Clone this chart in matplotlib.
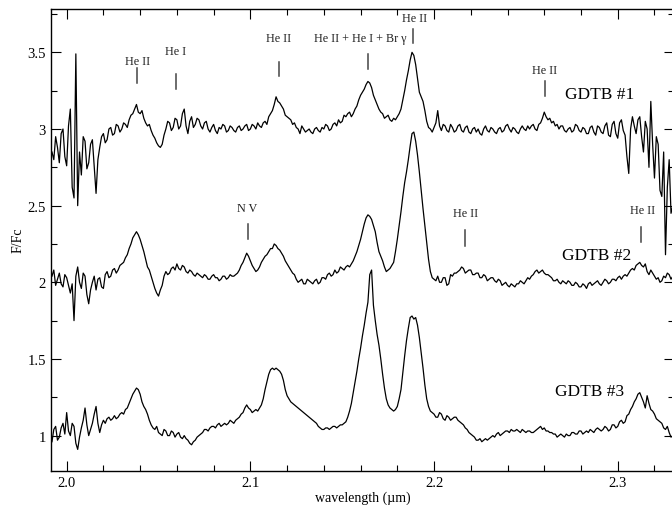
import matplotlib
matplotlib.use('Agg')
import matplotlib.pyplot as plt
import numpy as np
from matplotlib.ticker import MultipleLocator, FixedLocator

plt.rcParams['font.family'] = ['Liberation Serif', 'DejaVu Serif']

# wavelength grid (micron), 0.001 steps from 1.992 to 2.330
wl = np.round(np.arange(1.992, 2.3305, 0.001), 3)

# GDTB #1 (top spectrum), one row per 0.02 micron
gdtb1 = [
    2.85, 2.80, 2.95, 2.88, 2.78, 2.97, 3.00, 2.82, 2.76, 3.02, 3.13, 2.62, 2.55, 3.49, 2.50, 2.85, 2.70, 2.95, 2.92, 2.74,
    2.78, 2.90, 2.93, 2.76, 2.58, 2.80, 2.88, 2.95, 2.97, 2.91, 2.93, 3.00, 3.01, 2.96, 2.97, 3.03, 3.02, 2.98, 3.00, 3.04,
    3.03, 3.01, 3.06, 3.09, 3.10, 3.13, 3.16, 3.11, 3.10, 3.12, 3.07, 3.04, 3.02, 3.03, 2.99, 2.96, 2.94, 2.91, 2.89, 2.88,
    2.90, 2.96, 3.00, 3.05, 3.04, 2.99, 3.01, 3.07, 3.06, 3.00, 3.02, 3.10, 3.13, 3.02, 2.97, 3.05, 3.08, 3.01, 3.03, 3.07,
    3.06, 3.02, 3.00, 3.04, 3.05, 3.00, 2.98, 3.01, 3.03, 2.99, 2.97, 3.01, 3.00, 3.03, 3.02, 2.98, 2.99, 3.02, 3.01, 2.99,
    2.98, 3.01, 3.02, 2.99, 3.00, 3.02, 3.03, 2.99, 3.00, 3.03, 3.02, 3.00, 3.04, 3.02, 3.01, 3.04, 3.05, 3.03, 3.08, 3.10,
    3.12, 3.16, 3.21, 3.18, 3.17, 3.15, 3.13, 3.09, 3.08, 3.07, 3.06, 3.03, 3.04, 3.01, 3.00, 2.97, 3.02, 3.00, 2.98, 2.99,
    3.00, 2.98, 2.97, 3.00, 3.01, 2.99, 2.98, 3.01, 3.00, 3.03, 3.02, 2.99, 3.00, 3.03, 3.04, 3.02, 3.06, 3.04, 3.05, 3.09,
    3.08, 3.10, 3.11, 3.08, 3.10, 3.13, 3.15, 3.19, 3.22, 3.24, 3.26, 3.29, 3.31, 3.30, 3.27, 3.22, 3.19, 3.16, 3.13, 3.11,
    3.10, 3.07, 3.08, 3.09, 3.06, 3.05, 3.07, 3.06, 3.08, 3.10, 3.13, 3.19, 3.25, 3.32, 3.38, 3.45, 3.50, 3.48, 3.42, 3.33,
    3.24, 3.21, 3.18, 3.12, 3.05, 3.01, 3.00, 2.98, 3.01, 3.04, 3.12, 3.02, 2.99, 3.03, 3.02, 2.99, 2.98, 3.03, 3.01, 2.98,
    2.99, 3.02, 3.03, 2.99, 2.98, 3.01, 3.02, 2.98, 2.97, 3.00, 3.01, 2.98, 3.00, 2.97, 2.96, 3.00, 3.02, 2.99, 2.98, 3.01,
    3.00, 2.98, 2.97, 3.00, 3.01, 2.98, 2.99, 3.02, 3.03, 3.00, 2.98, 3.01, 3.00, 2.98, 2.97, 3.00, 3.02, 3.00, 2.99, 3.02,
    3.00, 3.02, 3.03, 3.00, 2.99, 3.03, 3.04, 3.07, 3.11, 3.08, 3.06, 3.07, 3.04, 3.05, 3.02, 3.03, 3.00, 3.02, 3.02, 2.99,
    2.98, 3.00, 3.01, 2.98, 2.99, 3.03, 3.02, 2.99, 2.98, 3.01, 3.00, 2.97, 2.97, 3.01, 3.02, 2.98, 2.96, 3.02, 3.01, 2.98,
    2.97, 3.02, 3.04, 2.96, 2.95, 3.03, 3.05, 2.97, 2.94, 3.04, 3.06, 2.99, 2.96, 2.82, 2.71, 3.00, 3.08, 3.02, 2.97, 3.06,
    3.08, 2.95, 2.85, 3.05, 3.00, 2.75, 3.18, 2.90, 2.68, 2.95, 2.90, 2.60, 2.56, 2.85, 2.18, 2.62, 2.80, 2.45, 2.50,
]

# GDTB #2 (middle spectrum)
gdtb2 = [
    2.04, 2.08, 1.98, 2.02, 2.06, 1.99, 1.97, 2.05, 2.03, 1.98, 1.93, 1.99, 1.75, 2.04, 2.10, 2.00, 1.96, 2.06, 2.04, 1.92,
    1.86, 1.95, 2.00, 2.04, 1.95, 2.02, 2.03, 1.97, 1.96, 2.05, 2.07, 2.03, 2.04, 2.08, 2.09, 2.06, 2.08, 2.11, 2.12, 2.13,
    2.16, 2.18, 2.22, 2.25, 2.29, 2.31, 2.33, 2.31, 2.28, 2.24, 2.20, 2.15, 2.10, 2.08, 2.04, 2.00, 1.96, 1.93, 1.91, 1.95,
    1.98, 2.04, 2.07, 2.05, 2.06, 2.09, 2.10, 2.08, 2.12, 2.09, 2.08, 2.11, 2.10, 2.07, 2.06, 2.08, 2.07, 2.05, 2.04, 2.06,
    2.05, 2.04, 2.03, 2.05, 2.04, 2.02, 2.02, 2.04, 2.05, 2.03, 2.03, 2.01, 2.02, 2.04, 2.04, 2.02, 2.03, 2.05, 2.04, 2.04,
    2.05, 2.06, 2.08, 2.11, 2.13, 2.16, 2.19, 2.17, 2.14, 2.11, 2.09, 2.07, 2.08, 2.10, 2.13, 2.15, 2.17, 2.18, 2.20, 2.22,
    2.22, 2.25, 2.24, 2.22, 2.21, 2.19, 2.17, 2.14, 2.12, 2.10, 2.08, 2.06, 2.05, 2.02, 2.00, 2.01, 2.02, 1.99, 1.99, 2.02,
    2.01, 2.00, 1.99, 2.01, 2.02, 1.99, 2.00, 2.03, 2.03, 2.02, 2.05, 2.06, 2.04, 2.05, 2.08, 2.06, 2.07, 2.10, 2.09, 2.08,
    2.10, 2.11, 2.10, 2.12, 2.14, 2.17, 2.20, 2.24, 2.28, 2.33, 2.38, 2.42, 2.44, 2.43, 2.41, 2.37, 2.33, 2.26, 2.20, 2.17,
    2.14, 2.10, 2.07, 2.08, 2.09, 2.11, 2.13, 2.20, 2.28, 2.37, 2.46, 2.56, 2.65, 2.72, 2.80, 2.89, 2.97, 2.98, 2.92, 2.83,
    2.72, 2.60, 2.48, 2.37, 2.26, 2.15, 2.07, 2.03, 2.02, 2.01, 2.04, 2.00, 2.00, 2.03, 2.03, 1.98, 1.99, 2.05, 2.04, 2.06,
    2.06, 2.07, 2.08, 2.10, 2.09, 2.06, 2.07, 2.08, 2.08, 2.05, 2.05, 2.06, 2.06, 2.03, 2.03, 2.05, 2.04, 2.01, 2.02, 2.03,
    2.03, 2.01, 2.00, 2.02, 2.01, 1.98, 1.99, 2.00, 1.98, 1.97, 1.99, 1.98, 1.97, 1.99, 1.99, 2.01, 2.00, 1.99, 2.01, 2.03,
    2.02, 2.04, 2.05, 2.07, 2.08, 2.06, 2.07, 2.08, 2.06, 2.05, 2.05, 2.04, 2.03, 2.01, 2.01, 2.02, 2.00, 1.99, 2.01, 2.00,
    1.99, 2.01, 2.00, 1.98, 1.98, 2.00, 1.99, 1.97, 1.97, 1.99, 1.98, 1.96, 1.99, 2.00, 1.98, 1.99, 2.00, 2.01, 1.99, 1.98,
    2.00, 2.02, 2.01, 1.99, 2.00, 2.02, 2.02, 2.01, 2.03, 2.04, 2.02, 2.04, 2.05, 2.04, 2.06, 2.08, 2.09, 2.08, 2.11, 2.12,
    2.13, 2.11, 2.10, 2.12, 2.07, 2.05, 2.08, 2.06, 2.04, 2.02, 2.03, 2.00, 2.01, 2.04, 2.03, 2.06, 2.05, 2.02, 2.04,
]

# GDTB #3 (bottom spectrum)
gdtb3 = [
    0.96, 1.04, 1.06, 0.97, 0.99, 1.05, 1.08, 1.01, 1.15, 1.03, 1.00, 1.08, 1.06, 0.95, 0.91, 0.99, 1.05, 1.10, 1.18, 1.07,
    1.00, 1.04, 1.08, 1.14, 1.19, 1.08, 1.02, 1.07, 1.10, 1.08, 1.11, 1.12, 1.10, 1.11, 1.13, 1.11, 1.12, 1.14, 1.15, 1.14,
    1.17, 1.18, 1.21, 1.24, 1.27, 1.29, 1.31, 1.30, 1.27, 1.22, 1.19, 1.17, 1.14, 1.10, 1.07, 1.05, 1.04, 1.06, 1.02, 1.01,
    1.00, 1.04, 1.03, 1.00, 1.00, 1.03, 1.02, 0.99, 1.01, 1.02, 0.99, 0.98, 1.00, 0.98, 0.97, 0.95, 0.94, 0.96, 0.97, 0.99,
    1.00, 1.01, 1.02, 1.04, 1.04, 1.03, 1.05, 1.06, 1.06, 1.05, 1.07, 1.08, 1.06, 1.07, 1.08, 1.07, 1.08, 1.10, 1.09, 1.08,
    1.10, 1.11, 1.12, 1.14, 1.15, 1.18, 1.20, 1.18, 1.17, 1.15, 1.16, 1.17, 1.16, 1.18, 1.20, 1.24, 1.30, 1.35, 1.40, 1.43,
    1.44, 1.43, 1.44, 1.43, 1.42, 1.40, 1.36, 1.30, 1.26, 1.24, 1.22, 1.21, 1.20, 1.19, 1.18, 1.17, 1.16, 1.15, 1.14, 1.13,
    1.12, 1.11, 1.10, 1.09, 1.08, 1.06, 1.05, 1.04, 1.04, 1.05, 1.05, 1.04, 1.05, 1.06, 1.06, 1.05, 1.06, 1.07, 1.07, 1.08,
    1.09, 1.12, 1.16, 1.21, 1.28, 1.35, 1.42, 1.50, 1.57, 1.65, 1.72, 1.80, 1.87, 2.05, 2.08, 1.85, 1.75, 1.66, 1.59, 1.50,
    1.40, 1.31, 1.24, 1.20, 1.18, 1.17, 1.16, 1.17, 1.19, 1.24, 1.30, 1.41, 1.52, 1.62, 1.70, 1.77, 1.78, 1.76, 1.77, 1.72,
    1.64, 1.54, 1.44, 1.33, 1.24, 1.19, 1.16, 1.15, 1.14, 1.12, 1.12, 1.15, 1.14, 1.11, 1.10, 1.13, 1.12, 1.10, 1.11, 1.12,
    1.12, 1.10, 1.09, 1.08, 1.07, 1.05, 1.04, 1.02, 1.01, 1.00, 0.99, 0.97, 0.97, 0.98, 0.96, 0.97, 0.98, 0.97, 0.98, 0.99,
    1.00, 0.99, 1.01, 1.02, 1.00, 1.01, 1.02, 1.03, 1.03, 1.02, 1.04, 1.03, 1.03, 1.04, 1.03, 1.02, 1.04, 1.03, 1.02, 1.03,
    1.03, 1.02, 1.02, 1.03, 1.04, 1.05, 1.06, 1.04, 1.05, 1.03, 1.03, 1.02, 1.02, 1.01, 1.01, 0.99, 1.00, 1.01, 1.00, 0.99,
    1.01, 1.00, 1.00, 1.02, 1.02, 1.01, 1.01, 1.03, 1.03, 1.01, 1.02, 1.03, 1.02, 1.04, 1.03, 1.02, 1.04, 1.05, 1.04, 1.03,
    1.04, 1.06, 1.05, 1.03, 1.04, 1.07, 1.07, 1.05, 1.06, 1.09, 1.10, 1.08, 1.09, 1.13, 1.14, 1.17, 1.19, 1.22, 1.24, 1.27,
    1.28, 1.25, 1.22, 1.18, 1.26, 1.21, 1.17, 1.16, 1.14, 1.11, 1.10, 1.09, 1.08, 1.05, 1.04, 1.06, 1.02, 0.99, 1.00,
]

# line identifications: label, line wavelength, text x, text y, mark top, mark bottom
line_labels = ["He II", "He I", "He II", "He II + He I + Br \u03b3", "He II",
               "He II", "N V", "He II", "He II"]
line_wl = [2.0384, 2.0595, 2.1156, 2.1639, 2.1885, 2.2604, 2.0985, 2.2170, 2.3125]
label_x = [2.0384, 2.0595, 2.1156, 2.1600, 2.1896, 2.2604, 2.0985, 2.2170, 2.3137]
label_y = [3.444, 3.509, 3.594, 3.594, 3.724, 3.385, 2.485, 2.452, 2.472]
mark_top = [3.398, 3.359, 3.437, 3.489, 3.652, 3.313, 2.380, 2.341, 2.361]
mark_bot = [3.300, 3.261, 3.346, 3.391, 3.561, 3.215, 2.282, 2.239, 2.263]

spec_names = ["GDTB #1", "GDTB #2", "GDTB #3"]
name_x = [2.2903, 2.2887, 2.2844]
name_y = [3.228, 2.178, 1.291]

fig = plt.figure(figsize=(6.72, 5.06), dpi=100)
ax = fig.add_axes([0.0766, 0.0678, 0.9263, 0.9134])

for s in (gdtb1, gdtb2, gdtb3):
    ax.plot(wl, s, color='black', lw=0.9)

for lab, w, tx, ty, top, bot in zip(line_labels, line_wl, label_x, label_y, mark_top, mark_bot):
    ax.plot([w, w], [bot, top], color='#444444', lw=1.1)
    ax.text(tx, ty, lab, ha='center', va='center', fontsize=8.7, color='#222222')

for name, nx, ny in zip(spec_names, name_x, name_y):
    ax.text(nx, ny, name, ha='center', va='center', fontsize=12.5)

ax.set_xlim(1.99173, 2.3306)
ax.set_ylim(0.771, 3.786)
ax.xaxis.set_major_locator(FixedLocator([2.0, 2.1, 2.2, 2.3]))
ax.xaxis.set_minor_locator(MultipleLocator(0.02))
ax.yaxis.set_minor_locator(MultipleLocator(0.25))
ax.set_xticklabels(["2.0", "2.1", "2.2", "2.3"])
ax.set_yticks([1, 1.5, 2, 2.5, 3, 3.5])
ax.set_yticklabels(["1", "1.5", "2", "2.5", "3", "3.5"])
ax.tick_params(which='both', direction='in', top=True, right=True, width=0.8, labelsize=10.5)
ax.tick_params(which='major', length=7.5, pad=4)
ax.tick_params(which='minor', length=4)
for sp in ax.spines.values():
    sp.set_linewidth(1.0)

ax.set_xlabel("wavelength (\u00b5m)", fontsize=10, labelpad=1)
ax.set_ylabel("F/Fc", fontsize=10, labelpad=2)

fig.savefig("out.png", dpi=100)
